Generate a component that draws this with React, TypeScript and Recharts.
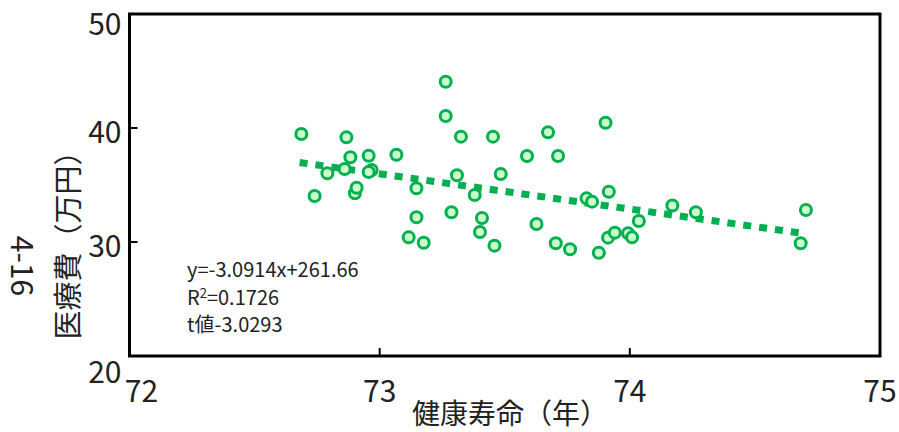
import React from 'react';
import { ScatterChart, Scatter, XAxis, YAxis, ReferenceArea } from 'recharts';

// 健康寿命（年）
const lifeExpectancy = [
  72.687, 72.74, 72.791, 72.86, 72.867, 72.883, 72.901, 72.908, 72.956, 72.968,
  72.956, 73.067, 73.116, 73.147, 73.147, 73.176, 73.264, 73.264, 73.287, 73.309,
  73.325, 73.38, 73.401, 73.409, 73.453, 73.459, 73.484, 73.589, 73.627, 73.673,
  73.704, 73.713, 73.761, 73.827, 73.849, 73.876, 73.903, 73.916, 73.913, 73.94,
  73.993, 74.009, 74.036, 74.17, 74.264, 74.683, 74.704,
];
// 医療費（万円）
const medicalCost = [
  39.47, 34.04, 36.03, 36.4, 39.18, 37.43, 34.27, 34.76, 37.57, 36.32,
  36.14, 37.66, 30.41, 34.71, 32.17, 29.94, 44.06, 41.05, 32.61, 35.85,
  39.24, 34.12, 30.88, 32.11, 39.24, 29.68, 35.96, 37.54, 31.58, 39.62,
  29.89, 37.54, 29.36, 33.83, 33.54, 29.06, 40.46, 34.41, 30.38, 30.82,
  30.76, 30.41, 31.84, 33.2, 32.61, 29.89, 32.81,
];
const trendX = [72.68, 74.7];
const trendY = [36.97, 30.73];
const xTicks = [72, 73, 74, 75];
const yTicks = [20, 30, 40, 50];
const equationLines = ['y=-3.0914x+261.66', 'R²=0.1726', 't値-3.0293'];
const xTitle = '健康寿命（年）';
const yTitle = '医療費（万円）';
const yTitle2 = '4-16';

const points = lifeExpectancy.map((x, i) => ({ x, y: medicalCost[i] }));
const trend = trendX.map((x, i) => ({ x, y: trendY[i] }));

const GREEN = '#00b050';
const FONT = '"Noto Sans CJK JP", "Noto Sans", sans-serif';

const Dot = (props: any) => {
  const { cx, cy } = props;
  if (cx == null || cy == null) return null;
  return <circle cx={cx} cy={cy} r={5.5} fill="#ccffcc" stroke={GREEN} strokeWidth={3} />;
};

const YTick = (props: any) => {
  const { x, y, payload, index } = props;
  const dy = index === 0 ? 14 : index === yTicks.length - 1 ? 8 : 2;
  return (
    <g>
      <line x1={x} x2={x + 8} y1={y} y2={y} stroke="#000" strokeWidth={2} />
      <text x={x - 8} y={y + dy} textAnchor="end" dominantBaseline="central" fontFamily={FONT} fontSize={30} fill="#222">
        {payload.value}
      </text>
    </g>
  );
};

const XTick = (props: any) => {
  const { x, y, payload, index } = props;
  const dx = index === 0 ? 12 : 0;
  return (
    <g>
      <line x1={x} x2={x} y1={y} y2={y - 8} stroke="#000" strokeWidth={2} />
      <text x={x + dx} y={y + 33} textAnchor="middle" dominantBaseline="central" fontFamily={FONT} fontSize={30} fill="#222">
        {payload.value}
      </text>
    </g>
  );
};

export default function App() {
  return (
    <div style={{ position: 'absolute', left: 0, top: 0, width: 899, height: 432, background: '#fff', overflow: 'hidden' }}>
      <ScatterChart width={899} height={432} margin={{ top: 14, right: 19, bottom: 26, left: 69.5 }} style={{ overflow: 'visible' }}>
        <XAxis
          type="number"
          dataKey="x"
          domain={[72, 75]}
          ticks={xTicks}
          height={50}
          tickSize={0}
          tickMargin={0}
          axisLine={false}
          tickLine={false}
          tick={XTick}
          interval={0}
          allowDataOverflow
        />
        <YAxis
          type="number"
          dataKey="y"
          domain={[20, 50]}
          ticks={yTicks}
          width={60}
          tickSize={0}
          tickMargin={0}
          axisLine={false}
          tickLine={false}
          tick={YTick}
          interval={0}
          allowDataOverflow
        />
        <ReferenceArea x1={72} x2={75} y1={20} y2={50} fill="none" stroke="#000" strokeWidth={3} />
        <Scatter
          data={trend}
          line={{ stroke: GREEN, strokeWidth: 7, strokeDasharray: '8 8' }}
          lineType="joint"
          shape={() => null}
          isAnimationActive={false}
        />
        <Scatter data={points} shape={<Dot />} isAnimationActive={false} />
      </ScatterChart>
      <div style={{ position: 'absolute', left: 187, top: 255, fontFamily: FONT, fontSize: 20, lineHeight: '27.5px', color: '#222', whiteSpace: 'pre' }}>
        {equationLines.map((l, i) => (
          <div key={i}>{i === 1 ? <span>R<sup style={{ fontSize: 13, verticalAlign: 'top', lineHeight: '20px' }}>2</sup>=0.1726</span> : l}</div>
        ))}
      </div>
      <div style={{ position: 'absolute', left: 510, top: 412, transform: 'translate(-50%, -50%)', fontFamily: FONT, fontSize: 28, lineHeight: 1, color: '#222', whiteSpace: 'nowrap' }}>
        {xTitle}
      </div>
      <div style={{ position: 'absolute', left: 66, top: 238, transform: 'translate(-50%, -50%) rotate(-90deg)', fontFamily: FONT, fontSize: 29, lineHeight: 1, color: '#222', whiteSpace: 'nowrap' }}>
        {yTitle}
      </div>
      <div style={{ position: 'absolute', left: 24, top: 266, transform: 'translate(-50%, -50%) rotate(90deg)', fontFamily: FONT, fontSize: 30, lineHeight: 1, color: '#222', whiteSpace: 'nowrap' }}>
        {yTitle2}
      </div>
    </div>
  );
}
